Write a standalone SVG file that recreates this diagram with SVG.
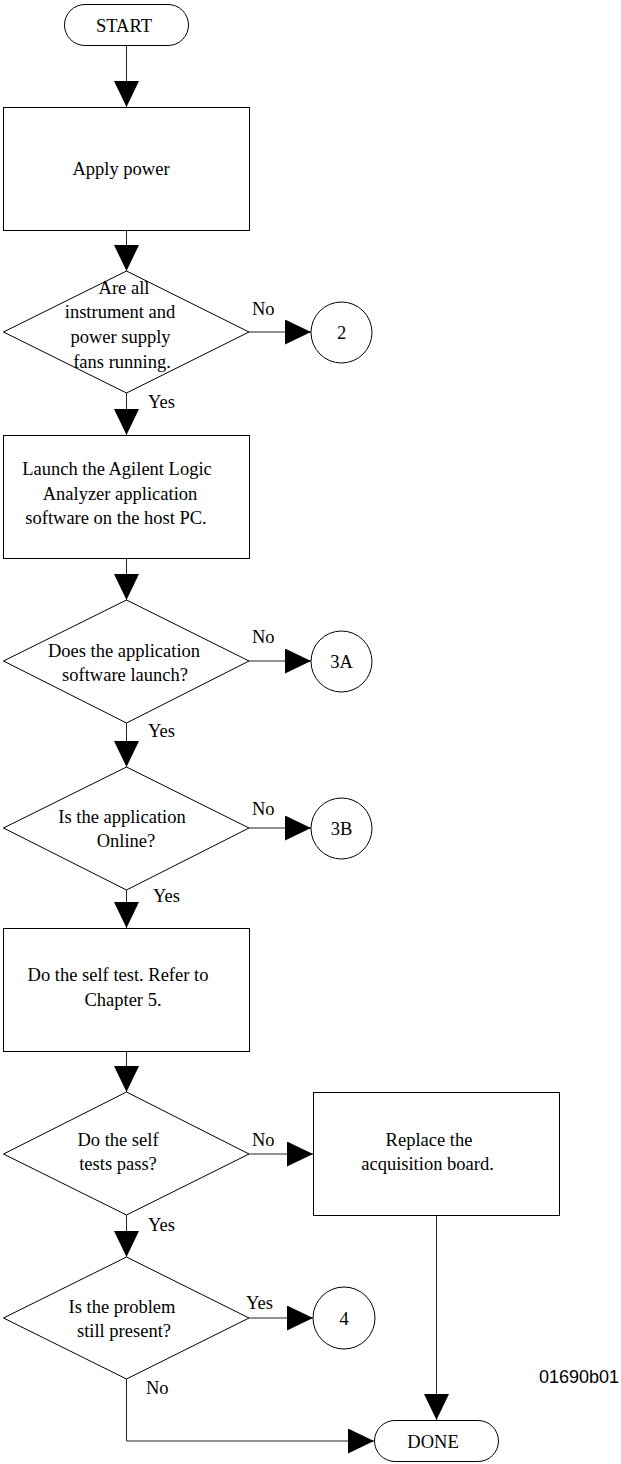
<svg xmlns="http://www.w3.org/2000/svg" width="621" height="1464" viewBox="0 0 621 1464">
<style>
.s{fill:#fff;stroke:#000;stroke-width:1}
.t{font-family:"Liberation Serif","Times New Roman",serif;font-size:18.5px;fill:#000;text-anchor:middle}
.l{font-family:"Liberation Serif","Times New Roman",serif;font-size:18.5px;fill:#000}
.c{fill:none;stroke:#222;stroke-width:1}
</style>
<defs>
<marker id="ah" markerUnits="userSpaceOnUse" markerWidth="27" markerHeight="26" refX="26" refY="12.5" orient="auto">
<path d="M0,0 L26,12.5 L0,25 Z" fill="#000"/>
</marker>
</defs>
<g id="connectors">
<line class="c" x1="126.5" y1="45" x2="126.5" y2="107" marker-end="url(#ah)"/>
<line class="c" x1="126.5" y1="230" x2="126.5" y2="271" marker-end="url(#ah)"/>
<line class="c" x1="249" y1="332" x2="311" y2="332" marker-end="url(#ah)"/>
<line class="c" x1="126.5" y1="393" x2="126.5" y2="435" marker-end="url(#ah)"/>
<line class="c" x1="126.5" y1="558" x2="126.5" y2="600" marker-end="url(#ah)"/>
<line class="c" x1="249" y1="661" x2="311" y2="661" marker-end="url(#ah)"/>
<line class="c" x1="126.5" y1="723" x2="126.5" y2="767" marker-end="url(#ah)"/>
<line class="c" x1="249" y1="828" x2="311" y2="828" marker-end="url(#ah)"/>
<line class="c" x1="126.5" y1="890" x2="126.5" y2="928" marker-end="url(#ah)"/>
<line class="c" x1="126.5" y1="1052" x2="126.5" y2="1092" marker-end="url(#ah)"/>
<line class="c" x1="249" y1="1154" x2="313" y2="1154" marker-end="url(#ah)"/>
<line class="c" x1="126.5" y1="1215" x2="126.5" y2="1257" marker-end="url(#ah)"/>
<line class="c" x1="249" y1="1318" x2="313" y2="1318" marker-end="url(#ah)"/>
<polyline class="c" points="126.5,1379 126.5,1441 374,1441" marker-end="url(#ah)"/>
<line class="c" x1="436.5" y1="1216" x2="436.5" y2="1420" marker-end="url(#ah)"/>
<text class="l" x="252" y="315">No</text>
<text class="l" x="148" y="408">Yes</text>
<text class="l" x="252" y="643">No</text>
<text class="l" x="148" y="737">Yes</text>
<text class="l" x="252" y="815">No</text>
<text class="l" x="153" y="902">Yes</text>
<text class="l" x="252" y="1146">No</text>
<text class="l" x="148" y="1231">Yes</text>
<text class="l" x="246" y="1309">Yes</text>
<text class="l" x="146" y="1394">No</text>
</g>
<g id="start">
<rect class="s" x="64.5" y="4.5" width="124" height="41" rx="20.5"/>
<text class="t" x="124" y="32">START</text>
</g>
<g id="apply-power">
<rect class="s" x="3.5" y="107.5" width="246" height="123"/>
<text class="t" x="121" y="175">Apply power</text>
</g>
<g id="fans">
<polygon class="s" points="126.5,271 249,332 126.5,393 3.5,332"/>
<text class="t" x="124" y="294">Are all</text>
<text class="t" x="120" y="318">instrument and</text>
<text class="t" x="120.5" y="343">power supply</text>
<text class="t" x="122" y="368">fans running.</text>
</g>
<g id="c2">
<circle class="s" cx="341.5" cy="332.5" r="30.5"/>
<text class="t" x="341.5" y="338.5">2</text>
</g>
<g id="launch">
<rect class="s" x="3.5" y="435.5" width="246" height="123"/>
<text class="t" x="117" y="475">Launch the Agilent Logic</text>
<text class="t" x="120" y="500">Analyzer application</text>
<text class="t" x="116" y="524">software on the host PC.</text>
</g>
<g id="launches">
<polygon class="s" points="126.5,600 249,661 126.5,723 3.5,661"/>
<text class="t" x="124" y="657">Does the application</text>
<text class="t" x="125" y="681">software launch?</text>
</g>
<g id="c3a">
<circle class="s" cx="341.5" cy="661.5" r="30.5"/>
<text class="t" x="341.5" y="668">3A</text>
</g>
<g id="online">
<polygon class="s" points="126.5,767 249,828 126.5,890 3.5,828"/>
<text class="t" x="122" y="823">Is the application</text>
<text class="t" x="126" y="847">Online?</text>
</g>
<g id="c3b">
<circle class="s" cx="341.5" cy="828.5" r="30.5"/>
<text class="t" x="341.5" y="835">3B</text>
</g>
<g id="selftest">
<rect class="s" x="3.5" y="928.5" width="246" height="123"/>
<text class="t" x="118" y="981">Do the self test. Refer to</text>
<text class="t" x="123" y="1006">Chapter 5.</text>
</g>
<g id="pass">
<polygon class="s" points="126.5,1092 249,1154 126.5,1215 3.5,1154"/>
<text class="t" x="118" y="1146">Do the self</text>
<text class="t" x="118" y="1170">tests pass?</text>
</g>
<g id="replace">
<rect class="s" x="313.5" y="1092.5" width="246" height="123"/>
<text class="t" x="429" y="1146">Replace the</text>
<text class="t" x="427.5" y="1170">acquisition board.</text>
</g>
<g id="present">
<polygon class="s" points="126.5,1257 249,1318 126.5,1379 3.5,1318"/>
<text class="t" x="122" y="1313">Is the problem</text>
<text class="t" x="124" y="1337">still present?</text>
</g>
<g id="c4">
<circle class="s" cx="344" cy="1318" r="31"/>
<text class="t" x="344" y="1325">4</text>
</g>
<g id="done">
<rect class="s" x="374.5" y="1420.5" width="124" height="41" rx="20.5"/>
<text class="t" x="433" y="1448">DONE</text>
</g>
<text x="539" y="1383" font-family="'Liberation Sans',Arial,sans-serif" font-size="18" fill="#000">01690b01</text>
</svg>
